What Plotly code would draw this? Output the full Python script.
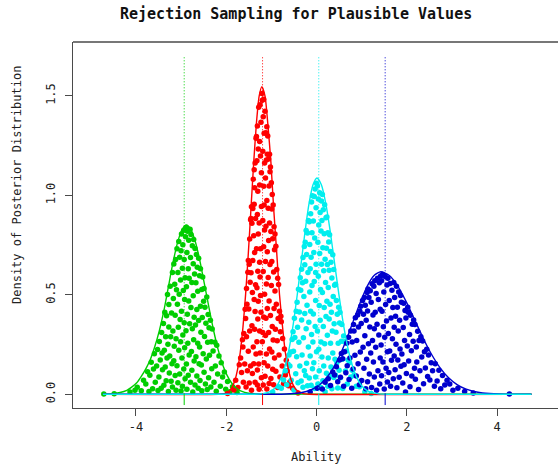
import plotly.graph_objects as go

# ---------------- data ----------------
title_text = "Rejection Sampling for Plausible Values"
x_label = "Ability"
y_label = "Density of Posterior Distribution"

x_tick_vals = [-4, -2, 0, 2, 4]
x_tick_text = ["-4", "-2", "0", "2", "4"]
y_tick_vals = [0.0, 0.5, 1.0, 1.5]
y_tick_text = ["0.0", "0.5", "1.0", "1.5"]

# posterior means (dotted vertical lines)
mean_lines = [-2.93, -1.195, 0.05, 1.52]

# posterior density curves
green_curve_x = [-4.73, -4.5, -4.35, -4.2, -4.1, -3.98, -3.88, -3.78, -3.68, -3.58, -3.48, -3.38, -3.28, -3.18,
                 -3.08, -2.98, -2.88, -2.78, -2.68, -2.58, -2.48, -2.38, -2.28, -2.18, -2.08, -1.98, -1.88,
                 -1.78, -1.68, -1.48, -1.28, 4.76]
green_curve_y = [0.0, 0.004, 0.009, 0.02, 0.035, 0.058, 0.09, 0.128, 0.175, 0.24, 0.32, 0.42, 0.54, 0.66,
                 0.76, 0.827, 0.851, 0.828, 0.764, 0.668, 0.552, 0.434, 0.322, 0.226, 0.150, 0.095, 0.057,
                 0.032, 0.017, 0.004, 0.0008, 0.0]

red_curve_x = [-4.73, -2.17, -2.05, -1.93, -1.87, -1.81, -1.75, -1.69, -1.63, -1.57, -1.51, -1.45, -1.39,
               -1.33, -1.27, -1.21, -1.14, -1.08, -1.01, -0.95, -0.88, -0.82, -0.75, -0.69, -0.62, -0.555,
               -0.49, -0.42, -0.29, -0.16, 4.76]
red_curve_y = [0.0, 0.0005, 0.0034, 0.017, 0.035, 0.068, 0.123, 0.209, 0.334, 0.502, 0.708, 0.938, 1.167,
               1.364, 1.498, 1.546, 1.498, 1.364, 1.167, 0.938, 0.708, 0.502, 0.334, 0.209, 0.123, 0.068,
               0.035, 0.017, 0.0034, 0.0005, 0.0]

cyan_curve_x = [-4.73, -1.39, -1.215, -1.04, -0.9525, -0.865, -0.7775, -0.69, -0.6025, -0.515, -0.4275,
                -0.34, -0.2525, -0.165, -0.0775, 0.01, 0.1075, 0.205, 0.3025, 0.40, 0.4975, 0.595, 0.6925,
                0.79, 0.8875, 0.985, 1.0825, 1.18, 1.375, 1.57, 4.76]
cyan_curve_y = [0.0, 0.0003, 0.0024, 0.0121, 0.0248, 0.0477, 0.0865, 0.147, 0.235, 0.353, 0.498, 0.659,
                0.820, 0.959, 1.053, 1.087, 1.053, 0.959, 0.820, 0.659, 0.498, 0.353, 0.235, 0.147, 0.0865,
                0.0477, 0.0248, 0.0121, 0.0024, 0.0003, 0.0]

blue_curve_x = [-4.73, -0.976, -0.676, -0.376, -0.226, -0.076, 0.074, 0.224, 0.374, 0.524, 0.674, 0.824,
                0.974, 1.124, 1.274, 1.424, 1.612, 1.799, 1.987, 2.174, 2.362, 2.549, 2.737, 2.924, 3.112,
                3.299, 3.487, 3.674, 4.049, 4.424, 4.76]
blue_curve_y = [0.0, 0.0002, 0.0014, 0.0068, 0.014, 0.027, 0.049, 0.0833, 0.133, 0.200, 0.282, 0.374,
                0.465, 0.544, 0.597, 0.616, 0.597, 0.544, 0.465, 0.374, 0.282, 0.200, 0.133, 0.0833, 0.049,
                0.027, 0.014, 0.0068, 0.0014, 0.0002, 0.0]

# accepted draws (ability, height) per examinee
green_points = [
    (-4.71, 0.002), (-4.48, 0.003), (-4.13, 0.012), (-4.02, 0.021), (-3.97, 0.035), (-3.88, 0.018),
    (-3.83, 0.071), (-3.78, 0.052), (-3.74, 0.113), (-3.71, 0.014), (-3.69, 0.096), (-3.66, 0.161),
    (-3.63, 0.028), (-3.61, 0.127), (-3.59, 0.204), (-3.57, 0.061), (-3.54, 0.142), (-3.52, 0.225),
    (-3.51, 0.019), (-3.49, 0.087), (-3.48, 0.265), (-3.46, 0.172), (-3.44, 0.031), (-3.43, 0.311),
    (-3.42, 0.208), (-3.41, 0.124), (-3.39, 0.356), (-3.38, 0.045), (-3.37, 0.221), (-3.36, 0.412),
    (-3.35, 0.137), (-3.34, 0.289), (-3.33, 0.068), (-3.32, 0.395), (-3.31, 0.183), (-3.30, 0.502),
    (-3.29, 0.251), (-3.28, 0.014), (-3.27, 0.338), (-3.27, 0.451), (-3.26, 0.107), (-3.25, 0.192),
    (-3.24, 0.543), (-3.23, 0.289), (-3.22, 0.066), (-3.21, 0.409), (-3.20, 0.153), (-3.19, 0.612),
    (-3.19, 0.037), (-3.18, 0.318), (-3.17, 0.482), (-3.16, 0.169), (-3.16, 0.655), (-3.15, 0.241),
    (-3.14, 0.553), (-3.13, 0.094), (-3.13, 0.397), (-3.12, 0.678), (-3.11, 0.279), (-3.11, 0.021),
    (-3.10, 0.526), (-3.09, 0.731), (-3.09, 0.143), (-3.08, 0.452), (-3.07, 0.612), (-3.07, 0.058),
    (-3.06, 0.337), (-3.05, 0.768), (-3.05, 0.221), (-3.04, 0.503), (-3.03, 0.689), (-3.03, 0.102),
    (-3.02, 0.376), (-3.01, 0.574), (-3.01, 0.264), (-3.00, 0.722), (-3.00, 0.016), (-2.99, 0.417),
    (-2.99, 0.805), (-2.98, 0.183), (-2.97, 0.633), (-2.97, 0.041), (-2.96, 0.298), (-2.96, 0.751),
    (-2.95, 0.522), (-2.94, 0.127), (-2.94, 0.824), (-2.93, 0.359), (-2.93, 0.677), (-2.92, 0.234),
    (-2.92, 0.477), (-2.91, 0.078), (-2.91, 0.586), (-2.90, 0.792), (-2.89, 0.319), (-2.89, 0.838),
    (-2.88, 0.152), (-2.88, 0.541), (-2.87, 0.713), (-2.87, 0.026), (-2.86, 0.402), (-2.86, 0.819),
    (-2.85, 0.257), (-2.84, 0.631), (-2.84, 0.096), (-2.83, 0.469), (-2.83, 0.774), (-2.82, 0.197),
    (-2.82, 0.583), (-2.81, 0.355), (-2.80, 0.829), (-2.79, 0.061), (-2.79, 0.688), (-2.78, 0.436),
    (-2.78, 0.803), (-2.77, 0.215), (-2.76, 0.562), (-2.76, 0.121), (-2.75, 0.747), (-2.75, 0.329),
    (-2.74, 0.011), (-2.73, 0.495), (-2.73, 0.656), (-2.72, 0.274), (-2.72, 0.778), (-2.71, 0.168),
    (-2.71, 0.387), (-2.70, 0.604), (-2.69, 0.733), (-2.69, 0.047), (-2.68, 0.348), (-2.67, 0.561),
    (-2.67, 0.189), (-2.66, 0.702), (-2.65, 0.426), (-2.65, 0.092), (-2.64, 0.639), (-2.63, 0.257),
    (-2.63, 0.518), (-2.62, 0.031), (-2.61, 0.684), (-2.61, 0.371), (-2.60, 0.154), (-2.59, 0.596),
    (-2.59, 0.238), (-2.58, 0.069), (-2.57, 0.443), (-2.57, 0.631), (-2.56, 0.312), (-2.55, 0.147),
    (-2.54, 0.527), (-2.54, 0.018), (-2.53, 0.386), (-2.52, 0.589), (-2.51, 0.204), (-2.50, 0.468),
    (-2.49, 0.532), (-2.49, 0.111), (-2.48, 0.291), (-2.47, 0.438), (-2.46, 0.052), (-2.45, 0.357),
    (-2.44, 0.178), (-2.43, 0.489), (-2.42, 0.024), (-2.41, 0.262), (-2.40, 0.401), (-2.39, 0.083),
    (-2.38, 0.335), (-2.37, 0.196), (-2.35, 0.372), (-2.34, 0.037), (-2.33, 0.264), (-2.32, 0.129),
    (-2.31, 0.328), (-2.29, 0.218), (-2.27, 0.061), (-2.25, 0.262), (-2.24, 0.142), (-2.22, 0.015),
    (-2.21, 0.247), (-2.19, 0.102), (-2.16, 0.193), (-2.13, 0.041), (-2.11, 0.158), (-2.08, 0.087),
    (-2.04, 0.112), (-2.01, 0.025), (-1.97, 0.064), (-1.92, 0.013), (-1.86, 0.038), (-1.76, 0.009),
]

red_points = [
    (-1.97, 0.004), (-1.83, 0.022), (-1.79, 0.071), (-1.74, 0.034), (-1.71, 0.148), (-1.68, 0.183),
    (-1.66, 0.109), (-1.64, 0.274), (-1.63, 0.238), (-1.62, 0.061), (-1.61, 0.306), (-1.59, 0.152),
    (-1.58, 0.427), (-1.57, 0.381), (-1.56, 0.037), (-1.55, 0.289), (-1.55, 0.532), (-1.54, 0.452),
    (-1.53, 0.118), (-1.52, 0.613), (-1.51, 0.216), (-1.51, 0.672), (-1.50, 0.429), (-1.49, 0.057),
    (-1.49, 0.654), (-1.48, 0.318), (-1.48, 0.781), (-1.47, 0.563), (-1.46, 0.877), (-1.46, 0.142),
    (-1.45, 0.611), (-1.45, 0.883), (-1.44, 0.942), (-1.44, 0.021), (-1.43, 0.859), (-1.43, 0.345),
    (-1.42, 0.104), (-1.42, 0.512), (-1.41, 0.672), (-1.41, 0.934), (-1.40, 1.081), (-1.40, 0.238),
    (-1.39, 0.154), (-1.39, 0.797), (-1.38, 0.955), (-1.38, 0.476), (-1.38, 1.129), (-1.37, 0.712),
    (-1.37, 1.038), (-1.37, 0.327), (-1.36, 1.162), (-1.36, 0.061), (-1.36, 0.416), (-1.35, 0.884),
    (-1.35, 0.551), (-1.34, 1.287), (-1.34, 0.203), (-1.33, 1.296), (-1.33, 0.731), (-1.32, 0.264),
    (-1.32, 1.174), (-1.32, 0.536), (-1.31, 1.348), (-1.31, 0.047), (-1.31, 0.903), (-1.31, 0.122),
    (-1.30, 0.379), (-1.30, 1.021), (-1.30, 0.618), (-1.29, 0.805), (-1.29, 1.233), (-1.29, 0.468),
    (-1.28, 1.442), (-1.28, 0.152), (-1.27, 0.861), (-1.27, 0.026), (-1.26, 1.052), (-1.26, 0.318),
    (-1.26, 1.271), (-1.26, 0.664), (-1.25, 0.207), (-1.25, 1.455), (-1.25, 0.589), (-1.24, 0.731),
    (-1.24, 1.198), (-1.24, 0.497), (-1.23, 1.367), (-1.23, 0.412), (-1.22, 0.083), (-1.22, 0.944),
    (-1.22, 1.113), (-1.21, 1.512), (-1.20, 1.478), (-1.20, 0.264), (-1.19, 0.873), (-1.19, 1.221),
    (-1.19, 0.311), (-1.18, 0.047), (-1.18, 0.617), (-1.18, 1.395), (-1.17, 0.389), (-1.17, 1.046),
    (-1.17, 0.742), (-1.17, 1.483), (-1.16, 1.312), (-1.16, 0.158), (-1.16, 0.951), (-1.15, 0.503),
    (-1.15, 1.162), (-1.15, 0.826), (-1.14, 1.423), (-1.14, 0.091), (-1.13, 0.668), (-1.13, 1.087),
    (-1.13, 0.296), (-1.12, 0.382), (-1.12, 1.314), (-1.12, 0.845), (-1.11, 0.203), (-1.11, 1.178),
    (-1.11, 0.554), (-1.10, 0.974), (-1.10, 1.345), (-1.10, 0.027), (-1.09, 0.716), (-1.09, 0.431),
    (-1.09, 1.206), (-1.08, 1.298), (-1.08, 0.142), (-1.07, 0.587), (-1.07, 0.935), (-1.06, 1.182),
    (-1.06, 0.311), (-1.06, 0.773), (-1.05, 0.054), (-1.05, 1.047), (-1.05, 0.469), (-1.04, 0.861),
    (-1.04, 1.206), (-1.04, 0.228), (-1.03, 0.652), (-1.03, 1.119), (-1.02, 1.142), (-1.02, 0.396),
    (-1.01, 0.079), (-1.01, 0.818), (-1.00, 0.547), (-1.00, 1.063), (-0.99, 0.213), (-0.99, 0.931),
    (-0.99, 0.667), (-0.98, 0.341), (-0.98, 1.004), (-0.97, 0.126), (-0.97, 0.782), (-0.96, 0.951),
    (-0.96, 0.273), (-0.95, 0.614), (-0.95, 0.048), (-0.94, 0.842), (-0.94, 0.431), (-0.93, 0.182),
    (-0.93, 0.727), (-0.92, 0.519), (-0.92, 0.806), (-0.91, 0.327), (-0.90, 0.744), (-0.90, 0.116),
    (-0.89, 0.452), (-0.88, 0.627), (-0.87, 0.269), (-0.86, 0.583), (-0.86, 0.034), (-0.85, 0.381),
    (-0.84, 0.552), (-0.83, 0.197), (-0.82, 0.418), (-0.81, 0.087), (-0.80, 0.314), (-0.79, 0.392),
    (-0.78, 0.364), (-0.76, 0.142), (-0.75, 0.281), (-0.73, 0.053), (-0.71, 0.228), (-0.69, 0.097),
    (-0.67, 0.171), (-0.65, 0.118), (-0.62, 0.043), (-0.59, 0.062), (-0.53, 0.031), (-0.41, 0.006),
]

cyan_points = [
    (-0.97, 0.011), (-0.84, 0.038), (-0.78, 0.031), (-0.73, 0.072), (-0.69, 0.118), (-0.66, 0.048),
    (-0.63, 0.151), (-0.61, 0.198), (-0.59, 0.142), (-0.57, 0.213), (-0.56, 0.071), (-0.54, 0.276),
    (-0.52, 0.314), (-0.51, 0.217), (-0.50, 0.022), (-0.49, 0.382), (-0.48, 0.286), (-0.46, 0.103),
    (-0.45, 0.417), (-0.44, 0.189), (-0.43, 0.462), (-0.42, 0.337), (-0.41, 0.058), (-0.40, 0.528),
    (-0.39, 0.261), (-0.38, 0.413), (-0.37, 0.142), (-0.36, 0.586), (-0.35, 0.523), (-0.34, 0.067),
    (-0.33, 0.628), (-0.33, 0.373), (-0.32, 0.197), (-0.31, 0.561), (-0.30, 0.687), (-0.30, 0.035),
    (-0.29, 0.284), (-0.28, 0.492), (-0.27, 0.743), (-0.27, 0.118), (-0.26, 0.406), (-0.26, 0.651),
    (-0.25, 0.764), (-0.24, 0.568), (-0.24, 0.094), (-0.23, 0.823), (-0.23, 0.329), (-0.22, 0.702),
    (-0.22, 0.156), (-0.21, 0.447), (-0.20, 0.043), (-0.20, 0.811), (-0.19, 0.612), (-0.18, 0.874),
    (-0.18, 0.238), (-0.17, 0.362), (-0.16, 0.867), (-0.16, 0.082), (-0.15, 0.753), (-0.15, 0.514),
    (-0.14, 0.192), (-0.14, 0.631), (-0.13, 0.418), (-0.13, 0.907), (-0.12, 0.046), (-0.12, 0.689),
    (-0.11, 0.301), (-0.11, 0.967), (-0.10, 0.547), (-0.10, 0.812), (-0.09, 0.998), (-0.09, 0.128),
    (-0.08, 0.263), (-0.07, 0.403), (-0.07, 0.871), (-0.06, 0.158), (-0.06, 0.712), (-0.05, 0.567),
    (-0.05, 0.994), (-0.04, 0.786), (-0.04, 0.029), (-0.03, 1.032), (-0.03, 0.341), (-0.02, 0.087),
    (-0.02, 0.472), (-0.02, 0.612), (-0.01, 0.653), (-0.01, 0.938), (0.00, 1.061), (0.00, 0.214),
    (0.02, 1.047), (0.02, 0.318), (0.03, 0.764), (0.03, 0.052), (0.04, 0.593), (0.04, 0.982),
    (0.05, 0.227), (0.05, 0.851), (0.06, 0.446), (0.06, 0.119), (0.07, 0.708), (0.07, 1.013),
    (0.08, 0.372), (0.08, 0.914), (0.09, 0.035), (0.09, 0.527), (0.10, 0.821), (0.10, 0.263),
    (0.11, 0.654), (0.11, 0.972), (0.12, 0.187), (0.12, 0.873), (0.13, 0.512), (0.13, 1.004),
    (0.14, 0.068), (0.14, 0.736), (0.15, 0.341), (0.15, 0.928), (0.16, 0.621), (0.16, 0.142),
    (0.17, 0.807), (0.17, 0.436), (0.18, 0.953), (0.18, 0.254), (0.19, 0.679), (0.19, 0.013),
    (0.20, 0.562), (0.21, 0.391), (0.21, 0.887), (0.22, 0.734), (0.22, 0.106), (0.23, 0.468),
    (0.23, 0.891), (0.24, 0.297), (0.24, 0.652), (0.25, 0.041), (0.25, 0.812), (0.26, 0.537),
    (0.26, 0.183), (0.27, 0.765), (0.28, 0.379), (0.28, 0.624), (0.29, 0.089), (0.29, 0.802),
    (0.30, 0.452), (0.31, 0.718), (0.31, 0.256), (0.32, 0.663), (0.32, 0.137), (0.33, 0.412),
    (0.34, 0.584), (0.34, 0.028), (0.35, 0.318), (0.36, 0.701), (0.36, 0.207), (0.37, 0.492),
    (0.38, 0.085), (0.38, 0.627), (0.39, 0.354), (0.40, 0.548), (0.41, 0.176), (0.42, 0.553),
    (0.42, 0.096), (0.43, 0.312), (0.44, 0.471), (0.45, 0.158), (0.46, 0.402), (0.47, 0.032),
    (0.48, 0.256), (0.49, 0.437), (0.50, 0.121), (0.51, 0.358), (0.52, 0.412), (0.53, 0.083),
    (0.55, 0.267), (0.56, 0.351), (0.57, 0.176), (0.58, 0.029), (0.60, 0.293), (0.61, 0.214),
    (0.62, 0.264), (0.64, 0.117), (0.66, 0.218), (0.68, 0.052), (0.70, 0.173), (0.73, 0.158),
    (0.76, 0.087), (0.79, 0.121), (0.83, 0.096), (0.88, 0.041), (0.95, 0.038), (1.07, 0.012),
    (1.21, 0.004),
]

blue_points = [
    (-0.14, 0.012), (0.02, 0.031), (0.13, 0.027), (0.19, 0.061), (0.26, 0.078), (0.31, 0.044),
    (0.36, 0.112), (0.40, 0.097), (0.44, 0.138), (0.47, 0.063), (0.51, 0.172), (0.53, 0.086),
    (0.55, 0.205), (0.58, 0.179), (0.60, 0.041), (0.62, 0.214), (0.65, 0.108), (0.67, 0.256),
    (0.68, 0.143), (0.71, 0.287), (0.72, 0.074), (0.74, 0.182), (0.76, 0.318), (0.78, 0.031),
    (0.79, 0.263), (0.81, 0.127), (0.82, 0.351), (0.83, 0.318), (0.85, 0.196), (0.86, 0.385),
    (0.88, 0.092), (0.89, 0.271), (0.91, 0.398), (0.92, 0.154), (0.93, 0.338), (0.95, 0.048),
    (0.96, 0.417), (0.97, 0.212), (0.98, 0.443), (0.99, 0.356), (1.00, 0.069), (1.02, 0.472),
    (1.03, 0.237), (1.04, 0.402), (1.05, 0.131), (1.06, 0.487), (1.07, 0.294), (1.08, 0.448),
    (1.09, 0.028), (1.10, 0.372), (1.11, 0.176), (1.12, 0.511), (1.13, 0.063), (1.13, 0.419),
    (1.14, 0.529), (1.15, 0.254), (1.16, 0.487), (1.17, 0.102), (1.18, 0.338), (1.19, 0.521),
    (1.20, 0.207), (1.21, 0.463), (1.22, 0.034), (1.23, 0.556), (1.24, 0.271), (1.25, 0.398),
    (1.26, 0.162), (1.27, 0.543), (1.28, 0.087), (1.28, 0.329), (1.29, 0.571), (1.30, 0.412),
    (1.31, 0.236), (1.32, 0.507), (1.33, 0.021), (1.34, 0.352), (1.35, 0.583), (1.36, 0.119),
    (1.37, 0.476), (1.38, 0.298), (1.39, 0.561), (1.40, 0.052), (1.41, 0.183), (1.41, 0.427),
    (1.42, 0.594), (1.43, 0.248), (1.44, 0.571), (1.44, 0.093), (1.45, 0.417), (1.46, 0.602),
    (1.47, 0.162), (1.48, 0.339), (1.49, 0.514), (1.50, 0.027), (1.51, 0.287), (1.52, 0.592),
    (1.53, 0.451), (1.54, 0.131), (1.55, 0.368), (1.56, 0.549), (1.57, 0.214), (1.57, 0.062),
    (1.58, 0.583), (1.59, 0.306), (1.60, 0.109), (1.61, 0.472), (1.62, 0.218), (1.63, 0.557),
    (1.64, 0.041), (1.65, 0.384), (1.66, 0.171), (1.67, 0.523), (1.68, 0.279), (1.69, 0.436),
    (1.70, 0.078), (1.71, 0.562), (1.72, 0.337), (1.72, 0.193), (1.73, 0.486), (1.74, 0.124),
    (1.75, 0.392), (1.76, 0.251), (1.77, 0.543), (1.78, 0.033), (1.79, 0.437), (1.80, 0.172),
    (1.81, 0.318), (1.82, 0.514), (1.83, 0.086), (1.84, 0.372), (1.85, 0.228), (1.86, 0.497),
    (1.87, 0.141), (1.88, 0.462), (1.89, 0.203), (1.91, 0.057), (1.92, 0.336), (1.93, 0.458),
    (1.94, 0.149), (1.95, 0.271), (1.96, 0.421), (1.97, 0.012), (1.98, 0.384), (1.99, 0.104),
    (2.01, 0.243), (2.02, 0.437), (2.03, 0.412), (2.04, 0.168), (2.06, 0.301), (2.07, 0.038),
    (2.08, 0.397), (2.10, 0.219), (2.11, 0.092), (2.12, 0.352), (2.14, 0.267), (2.15, 0.374),
    (2.17, 0.131), (2.18, 0.351), (2.19, 0.076), (2.21, 0.238), (2.22, 0.162), (2.24, 0.317),
    (2.26, 0.024), (2.27, 0.271), (2.29, 0.118), (2.31, 0.289), (2.33, 0.187), (2.35, 0.268),
    (2.37, 0.053), (2.39, 0.214), (2.41, 0.132), (2.44, 0.226), (2.46, 0.089), (2.48, 0.198),
    (2.51, 0.072), (2.54, 0.159), (2.57, 0.118), (2.61, 0.041), (2.63, 0.153), (2.67, 0.067),
    (2.71, 0.121), (2.75, 0.028), (2.79, 0.094), (2.84, 0.047), (2.89, 0.071), (2.95, 0.052),
    (3.02, 0.021), (3.13, 0.031), (3.28, 0.014), (3.47, 0.006), (4.27, 0.001),
]

group_colors = ["#00CD00", "#FF0000", "#00EEEE", "#0000CD"]

# ---------------- figure ----------------
W, H = 558, 468
M_L, M_R, M_T, M_B = 73, 0, 42, 60
X_RANGE = [-5.392, 5.347]
Y_RANGE = [-0.0688, 1.7704]
FONT = "DejaVu Sans Mono"
AXIS_COL = "#4a4a4a"

fig = go.Figure()

# scattered accepted draws
for pts, col in zip([green_points, red_points, cyan_points, blue_points], group_colors):
    fig.add_trace(go.Scatter(
        x=[p[0] for p in pts], y=[p[1] for p in pts], mode="markers",
        marker=dict(color=col, size=5.5, line=dict(width=0)),
        showlegend=False, hoverinfo="skip"))

# density curves (cyan last so its baseline is on top)
curves = [(green_curve_x, green_curve_y, group_colors[0]),
          (red_curve_x, red_curve_y, group_colors[1]),
          (blue_curve_x, blue_curve_y, group_colors[3]),
          (cyan_curve_x, cyan_curve_y, group_colors[2])]
for cx, cy, col in curves:
    fig.add_trace(go.Scatter(x=cx, y=cy, mode="lines",
                             line=dict(color=col, width=1.4, shape="spline", smoothing=0.6),
                             showlegend=False, hoverinfo="skip"))

# dotted vertical lines at the posterior means + short solid tick below zero
for m, col in zip(mean_lines, group_colors):
    fig.add_trace(go.Scatter(x=[m, m], y=[0.0, 1.70], mode="lines",
                             line=dict(color=col, width=1, dash="1px,2px"),
                             showlegend=False, hoverinfo="skip"))
    fig.add_trace(go.Scatter(x=[m, m], y=[-0.054, 0.0], mode="lines",
                             line=dict(color=col, width=1),
                             showlegend=False, hoverinfo="skip"))

fig.update_layout(
    width=W, height=H,
    margin=dict(l=M_L, r=M_R, t=M_T, b=M_B, pad=0),
    paper_bgcolor="white", plot_bgcolor="white",
    showlegend=False,
    font=dict(family=FONT, size=12, color="#222222"),
    xaxis=dict(range=X_RANGE, showgrid=False, zeroline=False,
               showline=True, linecolor=AXIS_COL, linewidth=1.3, mirror=False,
               ticks="outside", ticklen=7, tickwidth=1, tickcolor=AXIS_COL,
               tickvals=x_tick_vals, ticktext=x_tick_text,
               tickfont=dict(family=FONT, size=12, color="#222222")),
    yaxis=dict(range=Y_RANGE, showgrid=False, zeroline=False,
               showline=True, linecolor=AXIS_COL, linewidth=1.3, mirror=False,
               ticks="outside", ticklen=7, tickwidth=1, tickcolor=AXIS_COL,
               tickvals=y_tick_vals, ticktext=y_tick_text, tickangle=-90,
               ticklabelstandoff=5,
               tickfont=dict(family=FONT, size=12, color="#222222")),
    shapes=[dict(type="line", xref="paper", yref="paper", x0=0, x1=1, y0=1, y1=1,
                 line=dict(color=AXIS_COL, width=1.3))],
    annotations=[
        dict(text="<b>" + title_text + "</b>", xref="paper", yref="paper",
             x=(296 - M_L) / (W - M_L), y=1, yshift=28, xanchor="center", yanchor="middle",
             showarrow=False, font=dict(family=FONT, size=15, color="#111111")),
        dict(text=x_label, xref="paper", yref="paper", x=(316.5 - M_L) / (W - M_L), y=0,
             yshift=-49, xanchor="center", yanchor="middle", showarrow=False,
             font=dict(family=FONT, size=12, color="#222222")),
        dict(text=y_label, xref="paper", yref="paper", x=0, xshift=-56,
             y=(H - M_B - 185) / (H - M_B - M_T), xanchor="center", yanchor="middle",
             textangle=-90, showarrow=False, font=dict(family=FONT, size=12, color="#222222")),
    ],
)

fig.write_html("out.html")
